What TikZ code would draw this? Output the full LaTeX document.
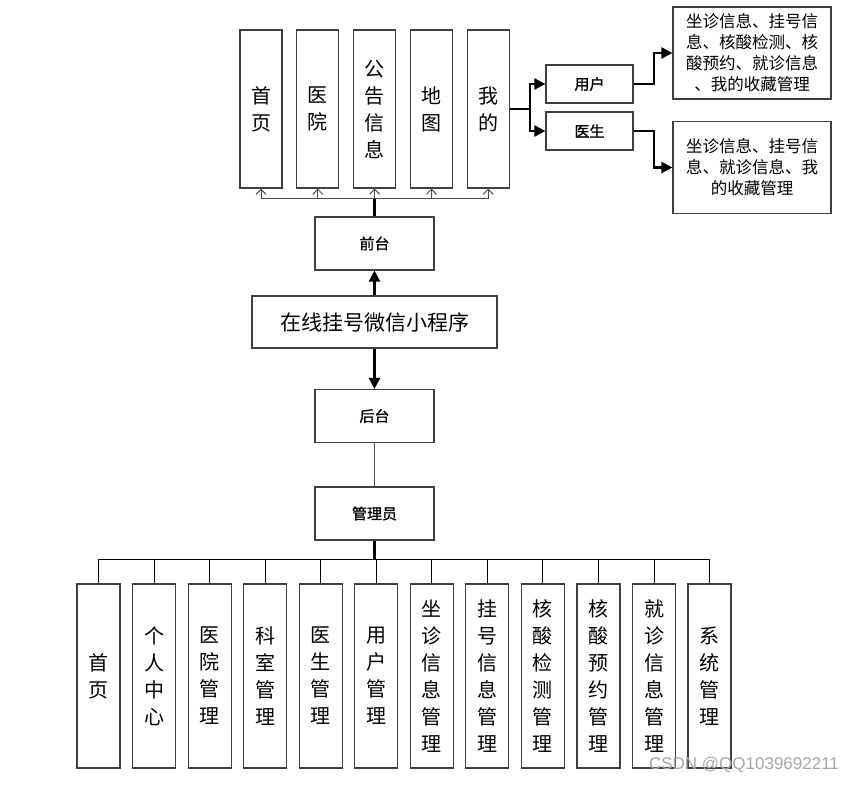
\documentclass[tikz,border=0pt]{standalone}
\usepackage{fontspec}
\setmainfont{Noto Sans CJK SC}
\newfontfamily\semibold[FakeBold=1.2]{Noto Sans CJK SC}
\newfontfamily\markfont{Liberation Sans}
\usetikzlibrary{positioning,arrows.meta}
\newlength{\lwidth}
\setlength{\lwidth}{1.2pt}
\tikzset{
  box/.style      ={draw=black!75,line width=\lwidth,fill=white,inner sep=0pt,align=center},
  colbox/.style   ={box,minimum width=42pt,minimum height=158pt,font=\fontsize{20}{27}\selectfont},
  lowbox/.style   ={box,minimum width=43pt,minimum height=184pt,font=\fontsize{20}{27}\selectfont},
  midbox/.style   ={box,minimum width=119pt,minimum height=53pt,font=\fontsize{15}{18}\semibold},
  rolebox/.style  ={box,minimum width=87pt,minimum height=38pt,font=\fontsize{15}{18}\semibold},
  infobox/.style  ={box,minimum width=158pt,minimum height=92pt,font=\fontsize{16.5}{21}\selectfont},
  thinlink/.style ={draw=black!70,line width=1pt},
  thicklink/.style={draw=black,line width=2.2pt},
  openhead/.style ={-{Straight Barb[length=5pt,width=10pt]}},
  fullhead/.style ={-{Triangle[length=11pt,width=11pt]}}
}

\begin{document}
\begin{tikzpicture}[x=1pt,y=-1pt]
  \useasboundingbox (0,0) rectangle (858,784);

  %% centre column
  %% ------------------------------------
  \node[box,minimum width=245pt,minimum height=52pt,font=\fontsize{21}{24}\selectfont]
        (prog) at (374.5,322) {在线挂号微信小程序};
  \node[midbox] (front) at (374.5,243.5) {前台};
  \node[midbox] (back)  at (374.5,416)   {后台};
  \node[midbox] (admin) at (374.5,513.5) {管理员};

  \draw[thicklink,fullhead] (prog.north) -- (front.south);
  \draw[thicklink,fullhead] (prog.south) -- (back.north);
  \draw[thinlink] (back.south) -- (admin.north);

  %% front end pages
  %% ------------------------------------
  \pgfmathsetmacro{\tstep}{56.8}
  \foreach \lbl [count=\i] in {{首\\页},{医\\院},{公\\告\\信\\息},{地\\图},{我\\的}}
    \node[colbox] (top\i) at (261+\tstep*\i-\tstep,109) {\lbl};

  \coordinate (tbus) at (374.5,198);
  \draw[thicklink] (front.north) -- (tbus);
  \foreach \i in {1,...,5}
    \draw[thinlink,openhead] (tbus) -| (top\i.south);

  %% roles under "mine"
  %% ------------------------------------
  \node[rolebox] (user)   at (589.5,84)  {用户};
  \node[rolebox] (doctor) at (589.5,131) {医生};
  \node[infobox] (uinfo)  at (752,53)
        {坐诊信息、挂号信\\息、核酸检测、核\\酸预约、就诊信息\\、我的收藏管理};
  \node[infobox] (dinfo)  at (752,167.5)
        {坐诊信息、挂号信\\息、就诊信息、我\\的收藏管理};

  \coordinate (mine) at (530,109);
  \draw[thicklink] (top5.east) -- (mine);
  \draw[thicklink,fullhead] (mine) |- (user.west);
  \draw[thicklink,fullhead] (mine) |- (doctor.west);
  \draw[thicklink,fullhead] (user.east) -- ++(20,0) |- (uinfo.west);
  \draw[thicklink,fullhead] (doctor.east) -- ++(20,0) |- (dinfo.west);

  %% back end modules
  %% ------------------------------------
  \pgfmathsetmacro{\bstep}{55.55}
  \foreach \lbl [count=\i] in {{首\\页},{个\\人\\中\\心},{医\\院\\管\\理},{科\\室\\管\\理},
                               {医\\生\\管\\理},{用\\户\\管\\理},{坐\\诊\\信\\息\\管\\理},
                               {挂\\号\\信\\息\\管\\理},{核\\酸\\检\\测\\管\\理},
                               {核\\酸\\预\\约\\管\\理},{就\\诊\\信\\息\\管\\理},{系\\统\\管\\理}}
    \node[lowbox] (low\i) at (98.5+\bstep*\i-\bstep,676) {\lbl};

  \coordinate (bbus) at (374.5,559);
  \draw[thicklink] (admin.south) -- (bbus);
  \foreach \i in {1,...,12}
    \draw[thinlink,draw=black] (bbus) -| (low\i.north);

  %% watermark
  \node[text=black!35,font=\fontsize{17}{20}\markfont] (mark) at (744,765) {CSDN @QQ1039692211};
\end{tikzpicture}
\end{document}
